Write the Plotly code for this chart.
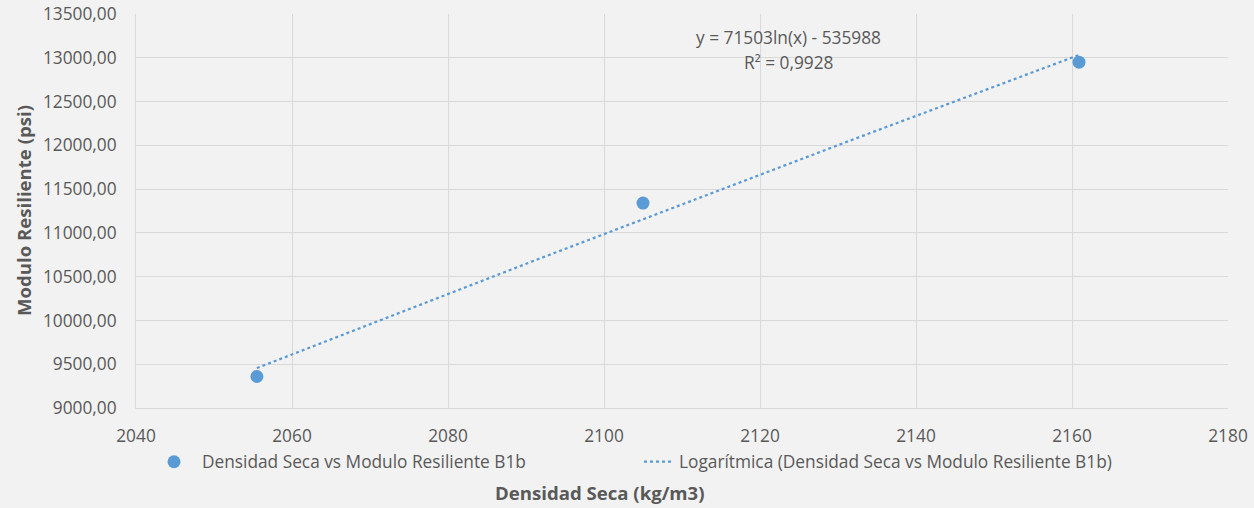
import numpy as np
import plotly.graph_objects as go

# Dry density vs resilient modulus (sample B1b)
densidad = [2055.5, 2105.0, 2160.9]
modulo = [9360.0, 11340.0, 12950.0]

# Logarithmic trendline: y = a*ln(x) + b
coef_a = 71503
coef_b = -535988
r2_text = "R² = 0,9928"
eq_text = "y = 71503ln(x) - 535988"

x_ticks = [2040, 2060, 2080, 2100, 2120, 2140, 2160, 2180]
y_ticks = [9000, 9500, 10000, 10500, 11000, 11500, 12000, 12500, 13000, 13500]

serie_nombre = "Densidad Seca vs Modulo Resiliente B1b"
tend_nombre = "Logarítmica (Densidad Seca vs Modulo Resiliente B1b)"

BLUE = "#5B9BD5"
TXT = "#595959"
GRID = "#d9d9d9"
FONT = "Open Sans"
FS = 17.3
FS_TITLE = 18.6

W, H = 1254, 508
ML, MR, MT, MB = 136, 26, 14, 100
PW, PH = W - ML - MR, H - MT - MB


def px_x(px):
    return (px - ML) / PW


def px_y(py):
    return (H - MB - py) / PH


xt = np.linspace(min(densidad), max(densidad), 200)
yt = coef_a * np.log(xt) + coef_b

fig = go.Figure()
fig.add_trace(go.Scatter(
    x=densidad, y=modulo, mode="markers", name=serie_nombre,
    marker=dict(color=BLUE, size=13, line=dict(width=0)),
    legend="legend",
))
fig.add_trace(go.Scatter(
    x=xt, y=yt, mode="lines", name=tend_nombre,
    line=dict(color=BLUE, width=2.25, dash="dot"),
    legend="legend2",
))

legend_common = dict(
    orientation="h", yanchor="middle", xanchor="left",
    bgcolor="rgba(0,0,0,0)", font=dict(family=FONT, size=FS, color=TXT),
    borderwidth=0,
)

fig.update_layout(
    width=W, height=H,
    margin=dict(l=ML, r=MR, t=MT, b=MB, autoexpand=False),
    paper_bgcolor="#f2f2f2", plot_bgcolor="#f2f2f2",
    separators=",.",
    font=dict(family=FONT, size=FS, color=TXT),
    showlegend=True,
    legend=dict(x=px_x(146), y=px_y(462), itemwidth=46, **legend_common),
    legend2=dict(x=px_x(639), y=px_y(462), itemwidth=30, **legend_common),
    xaxis=dict(
        range=[2040, 2180], tickvals=x_ticks, ticktext=[str(v) for v in x_ticks],
        showgrid=True, gridcolor=GRID, gridwidth=1,
        showline=True, linecolor=GRID, linewidth=1,
        zeroline=False, ticks="", ticklabelstandoff=12,
        tickfont=dict(family=FONT, size=FS, color=TXT),
    ),
    yaxis=dict(
        range=[9000, 13500], tickvals=y_ticks, tickformat=".2f",
        showgrid=True, gridcolor=GRID, gridwidth=1,
        showline=True, linecolor=GRID, linewidth=1,
        zeroline=False, ticks="", ticklabelstandoff=15,
        tickfont=dict(family=FONT, size=FS, color=TXT),
    ),
    annotations=[
        dict(text="<b>Densidad Seca (kg/m3)</b>", xref="paper", yref="paper",
             x=px_x(600), y=px_y(492), xanchor="center", yanchor="middle",
             showarrow=False, font=dict(family=FONT, size=FS_TITLE, color=TXT)),
        dict(text="<b>Modulo Resiliente (psi)</b>", xref="paper", yref="paper",
             x=px_x(23), y=0.5, xanchor="center", yanchor="middle",
             textangle=-90, showarrow=False,
             font=dict(family=FONT, size=FS_TITLE, color=TXT)),
        dict(text=eq_text, xref="paper", yref="paper",
             x=px_x(788), y=px_y(37), xanchor="center", yanchor="middle",
             showarrow=False, font=dict(family=FONT, size=FS, color=TXT)),
        dict(text=r2_text, xref="paper", yref="paper",
             x=px_x(788), y=px_y(62), xanchor="center", yanchor="middle",
             showarrow=False, font=dict(family=FONT, size=FS, color=TXT)),
    ],
)

fig.write_html("out.html")
